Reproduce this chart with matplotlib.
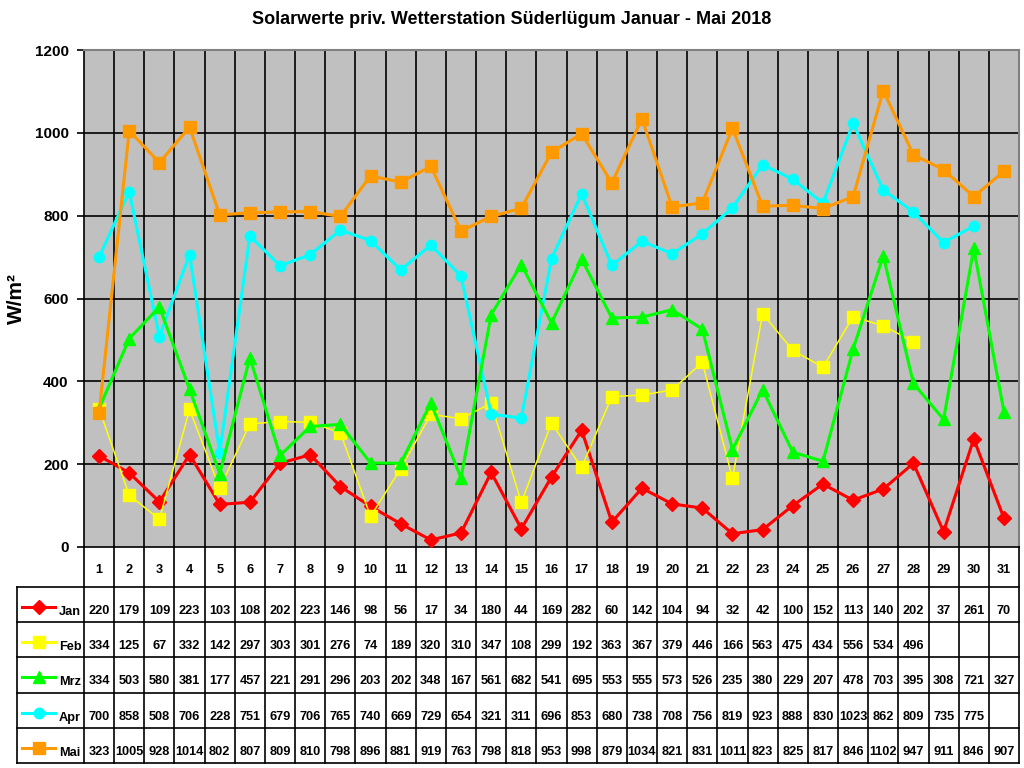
import numpy as np
import matplotlib
matplotlib.use("Agg")
import matplotlib.pyplot as plt

plt.rcParams['font.family'] = ['Liberation Sans', 'DejaVu Sans']

days = list(range(1, 32))
months = ["Jan", "Feb", "Mrz", "Apr", "Mai"]

jan = [220, 179, 109, 223, 103, 108, 202, 223, 146, 98, 56, 17, 34, 180, 44, 169,
       282, 60, 142, 104, 94, 32, 42, 100, 152, 113, 140, 202, 37, 261, 70]
feb = [334, 125, 67, 332, 142, 297, 303, 301, 276, 74, 189, 320, 310, 347, 108, 299,
       192, 363, 367, 379, 446, 166, 563, 475, 434, 556, 534, 496]
mrz = [334, 503, 580, 381, 177, 457, 221, 291, 296, 203, 202, 348, 167, 561, 682, 541,
       695, 553, 555, 573, 526, 235, 380, 229, 207, 478, 703, 395, 308, 721, 327]
apr = [700, 858, 508, 706, 228, 751, 679, 706, 765, 740, 669, 729, 654, 321, 311, 696,
       853, 680, 738, 708, 756, 819, 923, 888, 830, 1023, 862, 809, 735, 775]
mai = [323, 1005, 928, 1014, 802, 807, 809, 810, 798, 896, 881, 919, 763, 798, 818, 953,
       998, 879, 1034, 821, 831, 1011, 823, 825, 817, 846, 1102, 947, 911, 846, 907]

series = [jan, feb, mrz, apr, mai]
colors = ["#FF0000", "#FFFF00", "#00FF00", "#00FFFF", "#FF9900"]
markers = ["D", "s", "^", "o", "s"]
msizes = [7, 8.5, 8.5, 7.5, 8.5]
lwidths = [2.2, 1.1, 2.2, 2.2, 2.2]
zorders = [3, 3.5, 5, 4, 6]

W, H = 1024, 768
fig = plt.figure(figsize=(W / 100, H / 100), dpi=100)

# pixel layout
px_left, px_right, px_top, px_bot = 84, 1019, 50, 547
tab_left, tab_bot = 17, 763

ax = fig.add_axes([px_left / W, 1 - px_bot / H, (px_right - px_left) / W, (px_bot - px_top) / H])
ax.set_facecolor("#C0C0C0")
ax.set_xlim(0.5, 31.5)
ax.set_ylim(0, 1200)
ax.set_yticks(np.arange(0, 1201, 200))
ax.set_xticks([])
for y in np.arange(200, 1200, 200):
    ax.axhline(y, color="black", lw=1.2, zorder=1)
for x in np.arange(1.5, 31.5, 1):
    ax.axvline(x, color="black", lw=1.2, zorder=1)
for s in ["top", "right"]:
    ax.spines[s].set_color("#808080")
    ax.spines[s].set_linewidth(1.5)
ax.spines["left"].set_color("black")
ax.spines["bottom"].set_color("black")
ax.spines["left"].set_linewidth(1.2)
ax.spines["bottom"].set_linewidth(1.2)
ax.tick_params(axis="y", direction="out", length=5, width=1.2, labelsize=11, pad=6)
for lab in ax.get_yticklabels():
    lab.set_fontweight("bold")
ax.set_ylabel("W/m²", fontsize=15, fontweight="bold", labelpad=6)

for vals, c, m, ms, lw, z in zip(series, colors, markers, msizes, lwidths, zorders):
    ax.plot(days[:len(vals)], vals, color=c, marker=m, markersize=ms, lw=lw,
            markeredgecolor=c, zorder=z, clip_on=False)

fig.text(0.5, 1 - 20 / H, "Solarwerte priv. Wetterstation Süderlügum Januar - Mai 2018",
         ha="center", va="center", fontsize=13, fontweight="bold")

# data table below the plot
colw = (px_right - px_left) / 31
tx0 = 0.5 - (px_left - tab_left) / colw
tab = fig.add_axes([tab_left / W, 1 - tab_bot / H, (px_right - tab_left) / W, (tab_bot - px_bot) / H])
tab.set_xlim(tx0, 31.5)
tab.set_ylim(tab_bot - px_bot, 0)
tab.axis("off")

head_h = 40
row_h = (tab_bot - px_bot - head_h) / 5
tfont = dict(fontsize=9.2, fontweight="bold", family=["Liberation Sans Narrow", "Liberation Sans", "DejaVu Sans"])

# vertical lines
for x in np.arange(0.5, 32, 1):
    tab.plot([x, x], [0, tab_bot - px_bot], color="black", lw=1.2, clip_on=False)
tab.plot([tx0, tx0], [head_h, tab_bot - px_bot], color="black", lw=1.2, clip_on=False)
for i in range(6):
    y = head_h + i * row_h
    tab.plot([tx0, 31.5], [y, y], color="black", lw=1.2, clip_on=False)

for d in days:
    tab.text(d, 23, str(d), ha="center", va="center", **tfont)

def px2x(px):
    return tx0 + (px - tab_left) / colw

for i, (vals, name, c, m, ms, lw) in enumerate(zip(series, months, colors, markers, msizes, lwidths)):
    y0 = head_h + i * row_h
    tab.plot([px2x(22), px2x(55)], [y0 + 20, y0 + 20], color=c, lw=2.2)
    tab.plot([px2x(38.5)], [y0 + 20], marker=m, color=c, markersize=ms, markeredgecolor=c)
    tab.text(px2x(59), y0 + 25, name, ha="left", va="center", **tfont)
    for d, v in zip(days, vals):
        tab.text(d, y0 + 24, str(v), ha="center", va="center", **tfont)

fig.savefig("out.png", dpi=100)
